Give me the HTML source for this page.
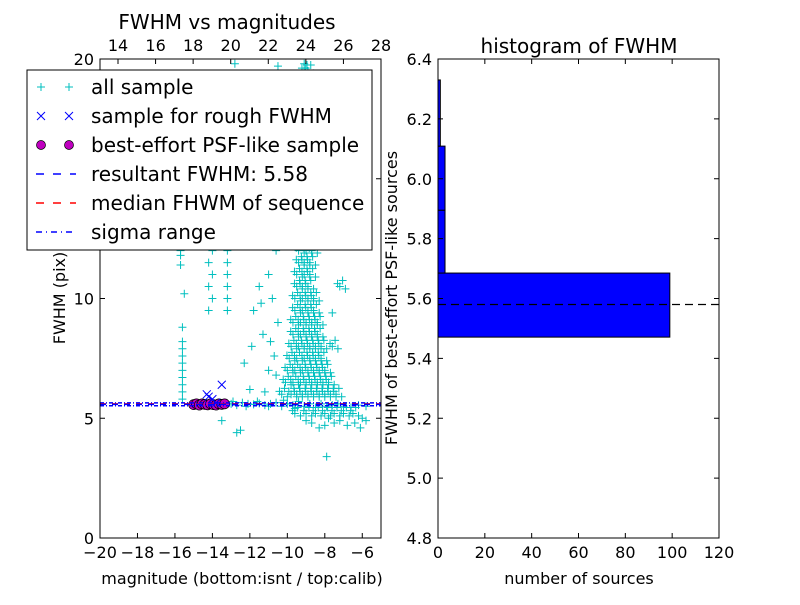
<!DOCTYPE html>
<html><head><meta charset="utf-8"><style>
body{margin:0;background:#fff;}
svg{font-family:"DejaVu Sans","Liberation Sans",sans-serif;}
</style></head><body>
<svg id="c" width="800" height="600" xmlns="http://www.w3.org/2000/svg"></svg>
<script>
const magTicks=[-20,-18,-16,-14,-12,-10,-8,-6];
const fwhmTicks=[0,5,10,15,20];
const topTicks=[14,16,18,20,22,24,26,28];
const histYTicks=[4.8,5.0,5.2,5.4,5.6,5.8,6.0,6.2,6.4];
const histXTicks=[0,20,40,60,80,100,120];
const binEdges=[5.471,5.685,5.895,6.109,6.33];
const binCounts=[99,3,3,1];
const resultFWHM=5.58;
const medianFWHM=5.6;
const sigmaLow=5.52, sigmaHigh=5.64;
const clusterLevels=[5.2,6,6.5,7,7.5,8,8.5,9,9.5,10,10.5,11,11.5,12,13,14,15,16,17,18,19.5];
const clusterMags=[[-9.6,-9.0,-8.5,-8.0,-7.5,-7.0,-6.5],[-10.3,-9.8,-9.5,-9.2,-8.9,-8.6,-8.3,-8.0,-7.7,-7.4],[-10.1,-9.7,-9.3,-9.0,-8.7,-8.4,-8.1,-7.8],[-10.0,-9.6,-9.2,-8.9,-8.6,-8.3,-8.0],[-9.9,-9.5,-9.1,-8.8,-8.5,-8.2],[-9.8,-9.4,-9.1,-8.8,-8.5,-8.2,-7.6],[-9.7,-9.3,-9.0,-8.7,-8.4],[-9.7,-9.3,-9.0,-8.7,-8.4],[-9.6,-9.2,-8.9,-8.6],[-9.6,-9.2,-8.9,-8.6],[-9.5,-9.2,-8.9,-7.2],[-9.5,-9.1,-8.8],[-9.4,-9.1,-8.8],[-9.4,-9.0,-8.7],[-9.3,-9.0,-8.8],[-9.3,-8.9],[-9.2,-8.9],[-9.0,-8.8],[-9.1,-8.8],[-8.9],[-8.9,-9.1]];
const allMag=[-13,-12.7,-12.4,-12.1,-11.8,-11.5,-11.2,-10.9,-10.6,-10.3,-10,-9.7,-9.4,-9.1,-8.8,-8.5,-8.2,-7.9,-7.6,-7.3,-7,-6.6,-6.2,-5.8,-12.9,-12.2,-11.6,-11,-10.2,-9.6,
-7.5,-7.2,-6.8,-6.4,-8.0,-8.3,-8.7,-9.0,-6.1,-7.8,-12.5,-12.7,-13.5,-6,-5.8,
-15.6,-15.6,-15.6,-15.6,-15.6,-15.6,-15.6,-15.6,-15.6,-15.6,-15.7,-15.7,-15.7,-15.5,
-14.2,-14.0,-14.2,-14.0,-14.2,-14.0,-14.2,-14.0,
-13.2,-13.2,-13.2,-13.2,-13.2,-13.2,-13.2,-13.2,-13.2,-13.2,-13.2,-13.2,
-11.8,-11.5,-11,-10.6,-10.4,-11.3,-11.9,-12.3,-11,-10.7,-12,-11.2,-10.5,-10.8,-11.6,-12.3,-10.2,-11.4,
-12.8,-10.5,-9.1,-10.3,-10.8,-11.7,-9.8,-10,-7.9,-10.6,-10.9,-7.6];
const allFwhm=[5.6,5.55,5.65,5.6,5.58,5.62,5.55,5.6,5.65,5.5,5.6,5.55,5.7,5.5,5.6,5.45,5.6,5.5,5.55,5.6,5.5,5.45,5.55,5.5,5.7,5.5,5.7,5.5,5.75,5.4,
4.8,4.9,4.7,4.8,4.7,4.6,4.8,4.9,4.6,5.0,4.5,4.4,4.9,5.0,4.9,
5.8,6.1,6.4,6.7,7.0,7.3,7.6,7.9,8.2,8.8,11.4,11.8,12.0,10.2,
9.5,10,10.5,11,11.5,12,12.5,13,
9.5,10,10.5,11,11.5,12,12.5,13,13.5,14,14.5,15,
9.5,10.5,11,12,12.8,8.5,8,7.3,7,7.6,6.2,6.1,9,10,12.5,13,13.5,9.8,
19.8,19.7,19.8,17,16,15.5,15,14,3.4,6.8,8.2,9.4];
const roughMag=[-14.3,-13.5,-14.0,-14.2,-13.8];
const roughFwhm=[6.0,6.4,5.8,5.9,5.65];
const psfMag=[-15.0,-14.85,-14.7,-14.55,-14.4,-14.25,-14.1,-13.95,-13.8,-13.65,-13.5,-13.35];
const psfFwhm=[5.57,5.6,5.55,5.6,5.58,5.56,5.6,5.57,5.55,5.6,5.58,5.6];

const S=document.getElementById('c');const NS='http://www.w3.org/2000/svg';
function el(t,a,p){const e=document.createElementNS(NS,t);for(const k in a)e.setAttribute(k,a[k]);(p||S).appendChild(e);return e;}
function txt(s,a,p){const e=el('text',a,p);e.textContent=s;return e;}
const L={x0:100,x1:381,y0:538,y1:59};
const mx=v=>L.x0+(v+20)/15*(L.x1-L.x0);
const fy=v=>L.y0-v/20*(L.y0-L.y1);
const tx=v=>118+(v-14)/14*(381-118);
const R={x0:438,x1:719,y0:538,y1:59};
const hx=v=>R.x0+v/120*(R.x1-R.x0);
const hy=v=>R.y0-(v-4.8)/1.6*(R.y0-R.y1);

const gL=el('g',{});


el('clipPath',{id:'cl'},gL);
el('rect',{x:L.x0,y:L.y1,width:L.x1-L.x0,height:L.y0-L.y1},document.getElementById('cl'));
const pts=el('g',{'clip-path':'url(#cl)'},gL);
function plus(x,y,col,p){el('path',{d:`M${x-4},${y}h8M${x},${y-4}v8`,stroke:col,'stroke-width':1,fill:'none'},p);}
const gAll=el('g',{},pts);


allMag.forEach((m,i)=>plus(mx(m),fy(allFwhm[i]),'#00bfbf',gAll));
clusterLevels.forEach((lv,i)=>clusterMags[i].forEach(m=>{plus(mx(m),fy(lv),'#00bfbf',gAll);plus(mx(m+0.15),fy(lv+0.25),'#00bfbf',gAll);plus(mx(m-0.12),fy(lv+0.12),'#00bfbf',gAll);plus(mx(m+0.3),fy(lv-0.1),'#00bfbf',gAll);}));
function hline(v,col,dash,p,name){const l=el('line',{x1:L.x0,x2:L.x1,y1:fy(v),y2:fy(v),stroke:col,'stroke-width':1.5,'stroke-dasharray':dash},p);}
const gPsf=el('g',{},pts);


psfMag.forEach((m,i)=>el('circle',{cx:mx(m),cy:fy(psfFwhm[i]),r:5,fill:'#bf00bf',stroke:'#000','stroke-width':0.7},gPsf));
const gR=el('g',{},pts);


roughMag.forEach((m,i)=>{const x=mx(m),y=fy(roughFwhm[i]);el('path',{d:`M${x-4},${y-4}l8,8M${x+4},${y-4}l-8,8`,stroke:'#0000ff','stroke-width':1},gR);});
hline(sigmaLow,'#0000ff','4,2,1,2',pts,'sigma-low-line');
hline(sigmaHigh,'#0000ff','4,2,1,2',pts,'sigma-high-line');
hline(medianFWHM,'#ff0000','6,6',pts,'median-fwhm-line');
hline(resultFWHM,'#0000ff','6,6',pts,'result-fwhm-line');
el('rect',{x:L.x0,y:L.y1,width:L.x1-L.x0,height:L.y0-L.y1,fill:'none',stroke:'#000'},gL);
magTicks.forEach(v=>{const x=mx(v);el('path',{d:`M${x},${L.y0}v-5`,stroke:'#000'},gL);txt(v<0?'\u2212'+(-v):v,{x:x,y:L.y0+20,'font-size':16,'text-anchor':'middle'},gL);});
fwhmTicks.forEach(v=>{const y=fy(v);el('path',{d:`M${L.x0},${y}h5M${L.x1},${y}h-5`,stroke:'#000'},gL);txt(v,{x:L.x0-6,y:y+6,'font-size':16,'text-anchor':'end'},gL);});
topTicks.forEach(v=>{const x=tx(v);el('path',{d:`M${x},${L.y1}v5`,stroke:'#000'},gL);txt(v,{x:x,y:L.y1-8,'font-size':16,'text-anchor':'middle'},gL);});
const t1=txt('FWHM vs magnitudes',{x:227,y:29,'font-size':20,'text-anchor':'middle'});
const xl=txt('magnitude (bottom:isnt / top:calib)',{x:242,y:584,'font-size':16,'text-anchor':'middle'});
const yl=txt('FWHM (pix)',{x:0,y:0,'font-size':16,'text-anchor':'middle',transform:'translate(65,298) rotate(-90)'});
const lg=el('g',{});


el('rect',{x:27,y:70,width:345,height:180,fill:'#fff',stroke:'#000'},lg);
const labels=['all sample','sample for rough FWHM','best-effort PSF-like sample','resultant FWHM: 5.58','median FHWM of sequence','sigma range'];
labels.forEach((s,i)=>{const y=87+i*29;
 if(i==0){plus(41,y,'#00bfbf',lg);plus(69,y,'#00bfbf',lg);}
 if(i==1){[41,69].forEach(x=>el('path',{d:`M${x-4},${y-4}l8,8M${x+4},${y-4}l-8,8`,stroke:'#0000ff'},lg));}
 if(i==2){[41,69].forEach(x=>el('circle',{cx:x,cy:y,r:4.5,fill:'#bf00bf',stroke:'#000','stroke-width':0.7},lg));}
 if(i==3)el('line',{x1:36,x2:76,y1:y,y2:y,stroke:'#0000ff','stroke-width':1.5,'stroke-dasharray':'8,9'},lg);
 if(i==4)el('line',{x1:36,x2:76,y1:y,y2:y,stroke:'#ff0000','stroke-width':1.5,'stroke-dasharray':'8,9'},lg);
 if(i==5)el('line',{x1:36,x2:76,y1:y,y2:y,stroke:'#0000ff','stroke-width':1.5,'stroke-dasharray':'6,4,1,4'},lg);
 const t=txt(s,{x:91,y:y+7,'font-size':20},lg);});
const gH=el('g',{});


binCounts.forEach((c,i)=>{const r=el('rect',{x:hx(0),y:hy(binEdges[i+1]),width:hx(c)-hx(0),height:hy(binEdges[i])-hy(binEdges[i+1]),fill:'#0000ff',stroke:'#000','stroke-width':1},gH);});
const dl=el('line',{x1:R.x0,x2:R.x1,y1:hy(resultFWHM),y2:hy(resultFWHM),stroke:'#000','stroke-width':1.2,'stroke-dasharray':'8,5'},gH);
el('rect',{x:R.x0,y:R.y1,width:R.x1-R.x0,height:R.y0-R.y1,fill:'none',stroke:'#000'},gH);
histXTicks.forEach(v=>{const x=hx(v);el('path',{d:`M${x},${R.y0}v-5M${x},${R.y1}v5`,stroke:'#000'},gH);txt(v,{x:x,y:R.y0+20,'font-size':16,'text-anchor':'middle'},gH);});
histYTicks.forEach(v=>{const y=hy(v);el('path',{d:`M${R.x0},${y}h5M${R.x1},${y}h-5`,stroke:'#000'},gH);txt(v.toFixed(1),{x:R.x0-6,y:y+6,'font-size':16,'text-anchor':'end'},gH);});
const t2=txt('histogram of FWHM',{x:579,y:53,'font-size':20,'text-anchor':'middle'});
const xl2=txt('number of sources',{x:579,y:584,'font-size':16,'text-anchor':'middle'});
const yl2=txt('FWHM of best-effort PSF-like sources',{x:0,y:0,'font-size':16,'text-anchor':'middle',transform:'translate(397,298) rotate(-90)'});
</script>
</body></html>
